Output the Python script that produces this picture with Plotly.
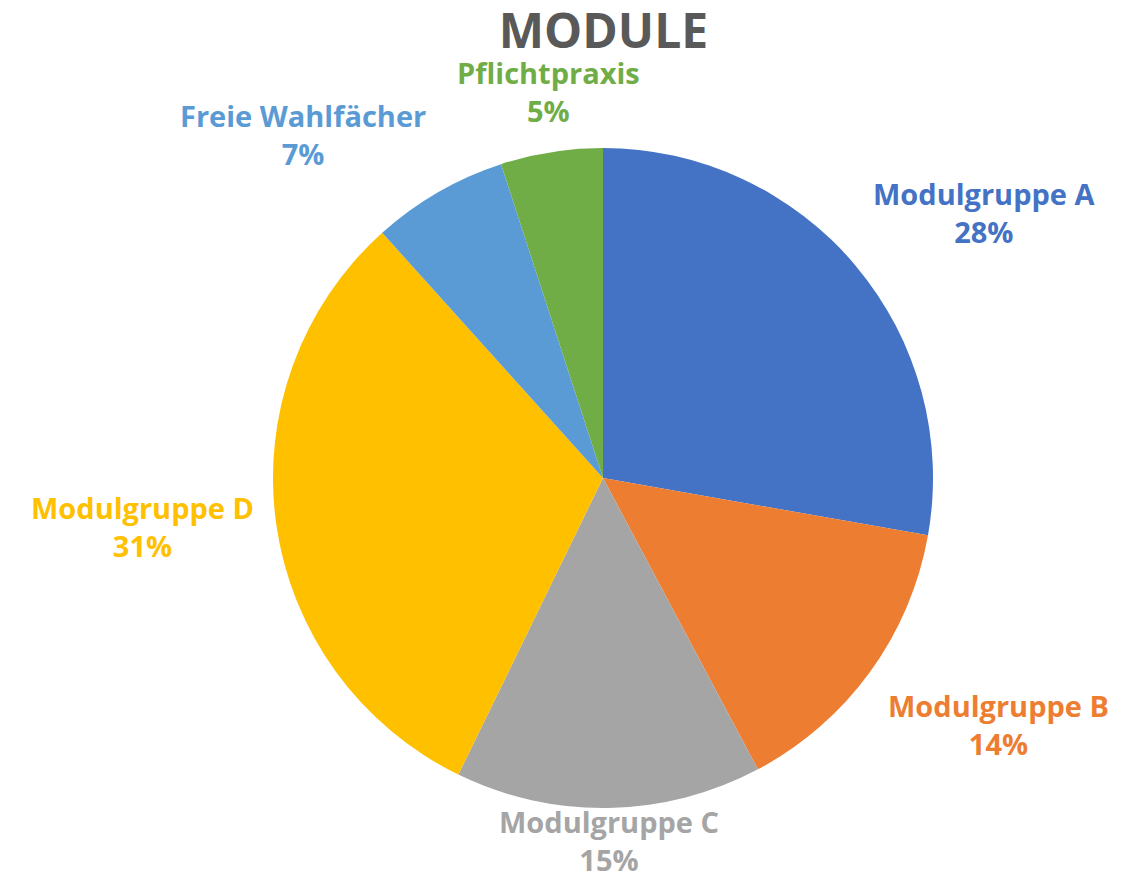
import numpy as np
import plotly.graph_objects as go

labels = ["Modulgruppe A", "Modulgruppe B", "Modulgruppe C", "Modulgruppe D",
          "Freie Wahlfächer", "Pflichtpraxis"]
values = [50, 26, 27, 56, 12, 9]
colors = ["#4472C4", "#ED7D31", "#A5A5A5", "#FFC000", "#5B9BD5", "#70AD47"]
title_text = "MODULE"

W, H = 1130, 878
ML, MR, MT, MB = 92, 32, 140, 78
plot_w = W - ML - MR
plot_h = H - MT - MB
R = min(plot_w, plot_h) / 2.0
GAP = 20          # label distance outside the rim
GAP_BOTTOM = -8   # bottom labels hug the rim

fig = go.Figure(go.Pie(
    labels=labels,
    values=values,
    sort=False,
    direction="clockwise",
    rotation=0,
    marker=dict(colors=colors, line=dict(width=0)),
    textinfo="none",
    showlegend=False,
    hoverinfo="label+percent",
))

# data labels placed just outside each slice at its mid-angle
vals = np.array(values, dtype=float)
frac = vals / vals.sum()
mid = np.cumsum(frac) - frac / 2.0
annotations = []
for lab, f, m, c in zip(labels, frac, mid, colors):
    th = 2 * np.pi * m
    ux, uy = np.sin(th), np.cos(th)
    xa = "left" if ux > 0.3 else ("right" if ux < -0.3 else "center")
    ya = "bottom" if uy > 0.3 else ("top" if uy < -0.3 else "middle")
    gap = GAP_BOTTOM if (xa == "center" and ya == "top") else GAP
    x = 0.5 + (R + gap) * ux / plot_w
    y = 0.5 + (R + gap) * uy / plot_h
    annotations.append(dict(
        x=x, y=y, xref="paper", yref="paper",
        text=f"<b>{lab}</b><br><b>{round(f * 100):.0f}%</b>",
        showarrow=False, xanchor=xa, yanchor=ya, align="center",
        font=dict(family="Open Sans", size=29, color=c),
    ))

fig.update_layout(
    width=W, height=H,
    margin=dict(l=ML, r=MR, t=MT, b=MB),
    paper_bgcolor="white",
    plot_bgcolor="white",
    annotations=annotations,
    title=dict(text="<b>" + title_text + "</b>", x=0.527, xanchor="center",
               y=0.974, yanchor="middle", yref="container",
               font=dict(family="Open Sans", size=48, color="#595959")),
)

fig.write_html("out.html")
